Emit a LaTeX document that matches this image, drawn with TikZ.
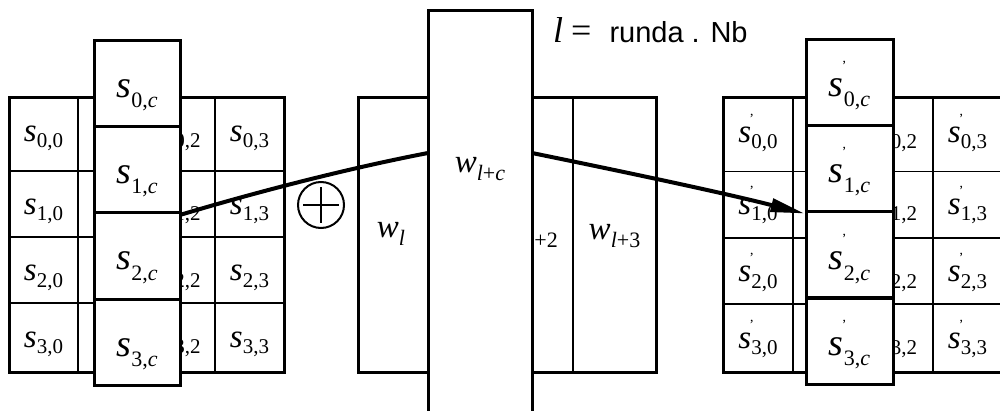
\documentclass[tikz,border=0pt]{standalone}
\usepackage{fontspec}
\setmainfont{Liberation Serif}
\setsansfont{Liberation Sans}
\usetikzlibrary{arrows.meta}

% cell labels: plain, big (c column), primed
\newcommand{\ssub}[1]{{\fontsize{33}{33}\selectfont\textit{s}}\raisebox{-6pt}{\fontsize{21}{21}\selectfont #1}}
\newcommand{\csub}[1]{{\fontsize{38}{38}\selectfont\textit{s}}\raisebox{-10pt}{\fontsize{22}{22}\selectfont #1}}
\newcommand{\pmark}[1]{\rlap{\kern-2pt\raisebox{#1}{\fontsize{14}{14}\selectfont '}}}
\newcommand{\psub}[1]{{\fontsize{33}{33}\selectfont\textit{s}}\pmark{19pt}\raisebox{-6pt}{\fontsize{21}{21}\selectfont #1}}
\newcommand{\pcsub}[1]{{\fontsize{38}{38}\selectfont\textit{s}}\pmark{26pt}\raisebox{-10pt}{\fontsize{22}{22}\selectfont #1}}
\newcommand{\wsub}[1]{{\fontsize{33}{33}\selectfont\textit{w}}\raisebox{-8pt}{\fontsize{22}{22}\selectfont #1}}

\begin{document}
\begin{tikzpicture}[
    x=1pt, y=-1pt,
    stateframe/.style={line width=3pt},
    gridline/.style={line width=1.4pt},
    cbox/.style={draw, line width=3pt, fill=white, minimum width=86pt, minimum height=86pt, inner sep=0pt},
    lab/.style={anchor=base, inner sep=0pt},
    flow/.style={line width=4pt, -{Triangle[length=34pt,width=13pt]}}
  ]
    \useasboundingbox (0,0) rectangle (1000,411);
    \clip (0,0) rectangle (1000,411);

    % state before
    \draw[stateframe] (9,98) rectangle (284,372);
    \draw[gridline] (78,98) -- (78,372) (215,98) -- (215,372)
      (9,171) -- (284,171) (9,237) -- (284,237) (9,303) -- (284,303);
    \foreach \r/\y in {0/142,1/215,2/281,3/347} {
      \node[lab] (l\r0) at (43.5,\y) {\ssub{\r,0}};
      \node[lab] (l\r2) at (181,\y) {\ssub{\r,2}};
      \node[lab] (l\r3) at (249.5,\y) {\ssub{\r,3}};
    }
    \node[cbox] (lc0) at (137,84) {};
    \node[cbox] (lc1) at (137,170) {};
    \node[cbox] (lc2) at (137,256) {};
    \node[cbox] (lc3) at (137,342) {};
    \foreach \r/\y in {0/98,1/184,2/270,3/356}
      \node[lab] (lc\r t) at (137,\y) {\csub{\r,\textit{c}}};

    % round key
    \draw[stateframe] (358,98) rectangle (656,372);
    \draw[gridline] (573,98) -- (573,372);
    \node[lab] (w0) at (391,238) {\wsub{\textit{l}}};
    \node[lab] (w2) at (532,240) {\wsub{\textit{l}+2}};
    \node[lab] (w3) at (614.5,240) {\wsub{\textit{l}+3}};

    \node[circle, draw, line width=2pt, minimum size=46pt, inner sep=0pt] (xor) at (321,205) {};
    \draw[line width=2.5pt] ([xshift=-18pt]xor.center) -- ([xshift=18pt]xor.center)
      ([yshift=-18pt]xor.center) -- ([yshift=18pt]xor.center);

    % state after
    \draw[stateframe] (723,98) rectangle (1002,372);
    \draw[gridline] (793,98) -- (793,372) (933,98) -- (933,372)
      (723,171.5) -- (1002,171.5) (723,238) -- (1002,238) (723,304) -- (1002,304);
    \foreach \r/\y in {0/143,1/215,2/282,3/348} {
      \node[lab] (r\r0) at (758,\y) {\psub{\r,0}};
      \node[lab] (r\r2) at (897.5,\y) {\psub{\r,2}};
      \node[lab] (r\r3) at (967.5,\y) {\psub{\r,3}};
    }
    \node[cbox, minimum width=87pt] (rc0) at (849.5,83) {};
    \node[cbox, minimum width=87pt] (rc1) at (849.5,169) {};
    \node[cbox, minimum width=87pt] (rc2) at (849.5,255) {};
    \node[cbox, minimum width=87pt] (rc3) at (849.5,341) {};
    \foreach \r/\y in {0/97,1/183,2/270,3/355}
      \node[lab] (rc\r t) at (849.5,\y) {\pcsub{\r,\textit{c}}};

    % xor path through the key column
    \coordinate (kin) at (428,153);
    \coordinate (kout) at (532,153);
    \draw[flow] (lc1.south east) .. controls (260,191) and (350,168) .. (kin) -- (kout)
      .. controls (620,171) and (720,192) .. (rc1.south west);

    \node[cbox, minimum width=104pt, minimum height=420pt] (wc) at (480,221) {};
    \node[lab] (wct) at (480,173) {\wsub{\textit{l}+\textit{c}}};

    \node[anchor=base west, inner sep=0pt] (eq) at (553,43)
      {\fontsize{36}{36}\selectfont\textit{l}\hspace{8pt}=\hspace{18pt}{\sffamily\fontsize{29}{29}\selectfont runda . Nb}};
\end{tikzpicture}
\end{document}
